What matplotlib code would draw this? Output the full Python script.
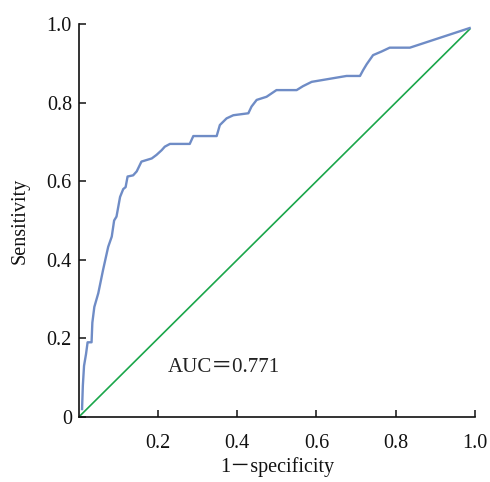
import matplotlib
matplotlib.use("Agg")
import matplotlib.pyplot as plt

# ROC curve points
fpr = [0.008, 0.010, 0.013, 0.018, 0.022, 0.032, 0.034, 0.039, 0.049, 0.061,
       0.074, 0.083, 0.089, 0.095, 0.104, 0.112, 0.118, 0.123, 0.137, 0.146,
       0.158, 0.184, 0.196, 0.209, 0.217, 0.230, 0.280, 0.289, 0.348, 0.356,
       0.373, 0.390, 0.428, 0.436, 0.449, 0.474, 0.499, 0.550, 0.566, 0.588,
       0.676, 0.710, 0.718, 0.727, 0.743, 0.764, 0.785, 0.836, 0.987]
tpr = [0.020, 0.080, 0.130, 0.160, 0.190, 0.190, 0.240, 0.280, 0.315, 0.374,
       0.433, 0.459, 0.500, 0.510, 0.560, 0.580, 0.585, 0.612, 0.615, 0.625,
       0.650, 0.658, 0.667, 0.679, 0.688, 0.695, 0.695, 0.715, 0.715, 0.743,
       0.760, 0.768, 0.773, 0.790, 0.807, 0.815, 0.832, 0.832, 0.842, 0.853,
       0.868, 0.868, 0.883, 0.898, 0.921, 0.930, 0.940, 0.940, 0.990]
diag = [0.0, 0.987]
auc_text = "AUC＝0.771"
xticks = [0.2, 0.4, 0.6, 0.8, 1.0]
yticks = [0, 0.2, 0.4, 0.6, 0.8, 1.0]
yticklabels = ["0", "0.2", "0.4", "0.6", "0.8", "1.0"]

plt.rcParams['font.family'] = ['Liberation Serif', 'Noto Sans CJK SC']
plt.rcParams['font.size'] = 14.5

fig = plt.figure(figsize=(4.9, 4.82), dpi=100)
ax = fig.add_axes([0.161, 0.135, 0.808, 0.815])

ax.plot(diag, diag, color='#1aa64a', lw=1.2)
ax.plot(fpr, tpr, color='#6f8cc6', lw=1.7)

ax.set_xlim(0, 1.0)
ax.set_ylim(0, 1.0)
ax.set_xticks(xticks)
ax.set_xticklabels(["0.2", "0.4", "0.6", "0.8", "1.0"])
ax.set_yticks(yticks)
ax.set_yticklabels(yticklabels)
ax.tick_params(direction='in', length=5, width=1.1, colors='#111111')
ax.tick_params(axis='x', pad=12)
ax.tick_params(axis='y', pad=5)

for side in ['top', 'right']:
    ax.spines[side].set_visible(False)
for side in ['left', 'bottom']:
    ax.spines[side].set_linewidth(1.2)
    ax.spines[side].set_color('#111111')

ax.set_xlabel("1－specificity", labelpad=3, color='#111111')
ax.set_ylabel("Sensitivity", labelpad=12, color='#111111')
ax.text(0.225, 0.125, auc_text, fontsize=15, color='#222222', va='center')

fig.savefig("out.png", dpi=100)
